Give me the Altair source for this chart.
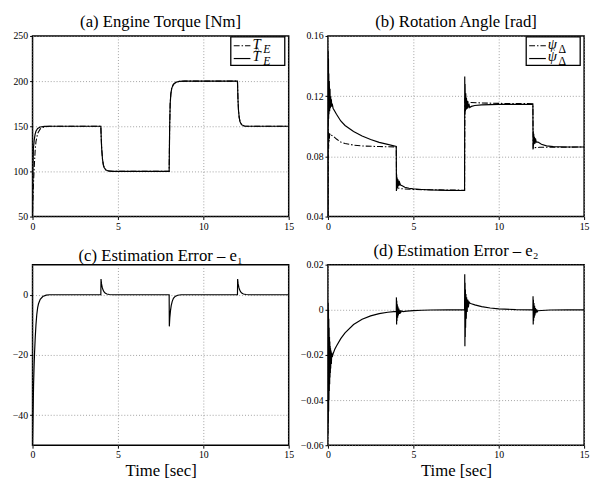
import altair as alt
import pandas as pd

FONT = "Liberation Serif"

# ---------------- (a) Engine Torque ----------------
t_a = [0, 0.02, 0.05, 0.1, 0.15, 0.2, 0.3, 0.45, 0.7, 1.0,
       4.0, 4.02, 4.05, 4.1, 4.15, 4.2, 4.3, 4.45, 4.7,
       8.0, 8.03, 8.06, 8.1, 8.15, 8.25, 8.4, 8.6, 8.9,
       12.0, 12.03, 12.06, 12.1, 12.15, 12.25, 12.4, 12.6, 15.0]
te_hat = [50, 100, 125, 135, 141, 144.5, 147.5, 149.2, 149.8, 150,
          150, 138, 125, 113, 107, 104, 101.5, 100.5, 100,
          100, 150, 175, 186, 192, 196.5, 198.8, 199.7, 200,
          200, 180, 168, 160, 155, 151.5, 150.3, 150, 150]
te = [55, 68, 85, 105, 122, 133, 142, 147, 149.5, 150,
      150, 138, 125, 113, 107, 104, 101.5, 100.5, 100,
      100, 150, 175, 186, 192, 196.5, 198.8, 199.7, 200,
      200, 180, 168, 160, 155, 151.5, 150.3, 150, 150]

# ---------------- (b) Rotation Angle ----------------
t_b_hat = [0, 0.01, 0.02, 0.03, 0.04, 0.05, 0.06, 0.08, 0.10, 0.12, 0.14, 0.16, 0.18, 0.2, 0.22, 0.25,
           0.3, 0.5, 0.75, 1.0, 1.5, 2.0, 2.5, 3.0, 3.5, 4.0,
           4.01, 4.02, 4.03, 4.05, 4.07, 4.09, 4.11, 4.14, 4.17, 4.2, 4.25, 4.35, 4.5, 4.75, 5.0, 5.5, 6.0, 7.0, 8.0,
           8.01, 8.02, 8.03, 8.05, 8.07, 8.09, 8.11, 8.14, 8.17, 8.2, 8.25, 8.3, 8.4, 8.6, 9.0, 10.0, 12.0,
           12.01, 12.02, 12.03, 12.05, 12.07, 12.09, 12.12, 12.15, 12.2, 12.3, 12.5, 12.8, 13.2, 14.0, 15.0]
psi_hat = [0.04, 0.15, 0.10, 0.145, 0.105, 0.135, 0.108, 0.13, 0.11, 0.125, 0.112, 0.12, 0.113, 0.118, 0.113, 0.115,
           0.112, 0.108, 0.1035, 0.1005, 0.0965, 0.0935, 0.0912, 0.0893, 0.088, 0.0866,
           0.057, 0.068, 0.058, 0.066, 0.059, 0.065, 0.060, 0.064, 0.0605, 0.0625, 0.061, 0.0605, 0.0595, 0.0588, 0.0584, 0.058, 0.0577, 0.0574, 0.0573,
           0.133, 0.108, 0.128, 0.110, 0.122, 0.111, 0.119, 0.1115, 0.117, 0.112, 0.115, 0.1125, 0.1132, 0.1138, 0.1142, 0.1145, 0.1146,
           0.085, 0.097, 0.087, 0.095, 0.088, 0.093, 0.0885, 0.092, 0.0895, 0.0895, 0.088, 0.087, 0.0865, 0.0862, 0.0862]
t_b = [0, 0.02, 0.04, 0.06, 0.08, 0.1, 0.15, 0.2, 0.3, 0.5, 0.75, 1.0, 1.5, 2.0, 3.0, 4.0,
       4.02, 4.1, 4.3, 5.0, 8.0,
       8.02, 8.1, 8.3, 9.0, 10.0, 12.0,
       12.02, 12.1, 12.4, 15.0]
psi = [0.04, 0.098, 0.085, 0.096, 0.090, 0.095, 0.0935, 0.094, 0.0935, 0.0915, 0.0895, 0.0885, 0.0875, 0.0869, 0.0865, 0.0863,
       0.060, 0.059, 0.0585, 0.058, 0.0575,
       0.118, 0.1165, 0.1158, 0.1155, 0.1152, 0.115,
       0.085, 0.0858, 0.086, 0.0862]

# ---------------- (c) Estimation Error e1 ----------------
t_c = [0, 0.03, 0.06, 0.09, 0.12, 0.16, 0.2, 0.25, 0.3, 0.35, 0.45, 0.6, 0.8, 1.0,
       4.0, 4.01, 4.04, 4.08, 4.12, 4.18, 4.25, 4.35, 4.5, 4.7,
       8.0, 8.01, 8.04, 8.08, 8.12, 8.18, 8.25, 8.35, 8.5, 8.7,
       12.0, 12.01, 12.04, 12.08, 12.12, 12.18, 12.25, 12.35, 12.5, 12.7, 15.0]
e1 = [-50, -40, -30, -24, -19, -14, -10, -6.5, -4.3, -3, -1.5, -0.6, -0.15, 0,
      0, 5.2, 3.6, 2.5, 1.7, 1.0, 0.55, 0.25, 0.08, 0,
      0, -10.5, -7.5, -5.2, -3.6, -2.2, -1.2, -0.55, -0.18, 0,
      0, 5.2, 3.6, 2.5, 1.7, 1.0, 0.55, 0.25, 0.08, 0, 0]

# ---------------- (d) Estimation Error e2 ----------------
t_d = [0, 0.01, 0.02, 0.03, 0.04, 0.05, 0.06, 0.07, 0.08, 0.09, 0.10, 0.11, 0.12, 0.13, 0.14, 0.15, 0.16, 0.18, 0.2, 0.22, 0.25,
       0.3, 0.4, 0.5, 0.75, 1.0, 1.5, 2.0, 2.5, 3.0, 3.5, 4.0,
       4.01, 4.02, 4.03, 4.04, 4.06, 4.08, 4.1, 4.12, 4.15, 4.18, 4.22, 4.26, 4.3, 4.4, 4.6, 5.0, 5.5, 6.0, 7.0, 8.0,
       8.01, 8.02, 8.03, 8.04, 8.05, 8.06, 8.08, 8.1, 8.12, 8.15, 8.18, 8.22, 8.26, 8.3, 8.4, 8.6, 9.0, 9.5, 10.0, 11.0, 12.0,
       12.01, 12.02, 12.03, 12.04, 12.06, 12.08, 12.1, 12.12, 12.15, 12.18, 12.22, 12.26, 12.3, 12.5, 13.0, 14.0, 15.0]
e2 = [-0.055, 0.003, -0.05, 0.0, -0.045, -0.004, -0.04, -0.008, -0.036, -0.012, -0.033, -0.014, -0.03, -0.016, -0.028, -0.017, -0.026, -0.018, -0.024, -0.019, -0.021,
      -0.0195, -0.0175, -0.016, -0.0128, -0.0102, -0.0065, -0.0042, -0.0027, -0.0017, -0.0011, -0.0007,
      0.0055, -0.0065, 0.004, -0.005, 0.0025, -0.0035, 0.0015, -0.0025, 0.0005, -0.0018, -0.0002, -0.0012, -0.0005, -0.0008, -0.0006, -0.0004, -0.0002, -0.0001, 0.0, 0.0,
      0.0158, -0.0162, 0.012, -0.012, 0.009, -0.008, 0.007, -0.004, 0.0055, -0.001, 0.0045, 0.001, 0.0035, 0.003, 0.0027, 0.0022, 0.0014, 0.0008, 0.0004, 0.0001, 0.0,
      0.006, -0.0065, 0.0045, -0.005, 0.003, -0.0035, 0.0018, -0.0025, 0.0008, -0.0015, 0.0002, -0.0008, -0.0004, -0.0003, -0.0001, 0.0, 0.0]

x_ticks = [0, 5, 10, 15]

W, H = 261, 184
DASHDOT = [6, 2, 1.5, 2]


def axis_x(title):
    kw = dict(values=x_ticks, format="d", grid=True, gridDash=[1, 2], gridColor="#8a8a8a", gridWidth=0.8,
              domain=False, tickColor="black", tickSize=3, labelFont=FONT, labelFontSize=10,
              labelColor="black", labelPadding=2, labelFlush=False)
    if title:
        kw.update(title=title, titleFont=FONT, titleFontSize=17, titleFontWeight="normal",
                  titleColor="black", titlePadding=3)
    else:
        kw.update(title=None)
    return alt.Axis(**kw)


def axis_y(values, label_expr):
    return alt.Axis(values=values, labelExpr=label_expr, grid=True, gridDash=[1, 2], gridColor="#8a8a8a",
                    gridWidth=0.8, domain=False, tickColor="black", tickSize=3, labelFont=FONT,
                    labelFontSize=10, labelColor="black", labelPadding=2, title=None, labelFlush=False)


def line(t, v, dom, yvals, yexpr, xtitle, dash=None):
    df = pd.DataFrame({"t": t, "v": v})
    mk = dict(color="black", strokeWidth=1.2, clip=True)
    if dash:
        mk["strokeDash"] = dash
        mk["strokeWidth"] = 1.1
    return alt.Chart(df).mark_line(**mk).encode(
        x=alt.X("t:Q", scale=alt.Scale(domain=[0, 15], nice=False, zero=False), axis=axis_x(xtitle)),
        y=alt.Y("v:Q", scale=alt.Scale(domain=dom, nice=False, zero=False), axis=axis_y(yvals, yexpr)),
    )


one = pd.DataFrame({"k": [0]})


def legend(sym, sub, sub_upright):
    x0 = W - 59
    box = alt.Chart(one).mark_rect(fill="white", stroke="black", strokeWidth=1.3).encode(
        x=alt.value(x0), x2=alt.value(W - 4), y=alt.value(1), y2=alt.value(30))
    r1 = alt.Chart(one).mark_rule(color="black", strokeWidth=1.1, strokeDash=DASHDOT).encode(
        x=alt.value(x0 + 3), x2=alt.value(x0 + 20), y=alt.value(10))
    r2 = alt.Chart(one).mark_rule(color="black", strokeWidth=1.2).encode(
        x=alt.value(x0 + 3), x2=alt.value(x0 + 20), y=alt.value(23))
    layers = [box, r1, r2]
    for yy in (10, 23):
        layers.append(alt.Chart(one).mark_text(text=sym, font=FONT, fontStyle="italic", fontSize=15,
                                               align="left", baseline="middle", color="black").encode(
            x=alt.value(x0 + 22), y=alt.value(yy - 2)))
        layers.append(alt.Chart(one).mark_text(text=sub, font=FONT,
                                               fontStyle="normal" if sub_upright else "italic",
                                               fontSize=12, align="left", baseline="middle", color="black").encode(
            x=alt.value(x0 + 33), y=alt.value(yy + 3)))
    # hat over the estimate symbol
    layers.append(alt.Chart(one).mark_text(text="^", font=FONT, fontSize=9, align="left",
                                           baseline="middle", color="black").encode(
        x=alt.value(x0 + 25), y=alt.value(23 - 9)))
    return layers


def title(txt):
    return alt.TitleParams(text=txt, font=FONT, fontSize=17, fontWeight="normal", color="black",
                           offset=0, anchor="middle")


lab_int = "format(datum.value, 'd')"
lab_b = "format(datum.value, '.2f')"
lab_d = "datum.value == 0 ? '0' : format(datum.value, '.2f')"

pa = alt.layer(
    line(t_a, te, [50, 250], [50, 100, 150, 200, 250], lab_int, None, DASHDOT),
    line(t_a, te_hat, [50, 250], [50, 100, 150, 200, 250], lab_int, None),
    *legend("T", "E", False),
).properties(width=W, height=H, title=title("(a) Engine Torque [Nm]"))

pb = alt.layer(
    line(t_b, psi, [0.04, 0.16], [0.04, 0.08, 0.12, 0.16], lab_b, None, DASHDOT),
    line(t_b_hat, psi_hat, [0.04, 0.16], [0.04, 0.08, 0.12, 0.16], lab_b, None),
    *legend("\u03c8", "\u0394", True),
).properties(width=W, height=H, title=title("(b) Rotation Angle [rad]"))

pc = alt.layer(
    line(t_c, e1, [-50, 10], [-40, -20, 0], lab_int, "Time [sec]"),
).properties(width=W, height=H, title=title("(c) Estimation Error \u2013 e\u2081"))

pd_ = alt.layer(
    line(t_d, e2, [-0.06, 0.02], [-0.06, -0.04, -0.02, 0, 0.02], lab_d, "Time [sec]"),
).properties(width=W, height=H, title=title("(d) Estimation Error \u2013 e\u2082"))

chart = alt.concat(
    pa, pb, pc, pd_, columns=2, spacing={"row": 49, "column": 40}, bounds="flush",
).properties(
    padding={"left": 3, "top": 0, "right": 0, "bottom": 0}, background="white"
).configure_view(stroke="black", strokeWidth=1.5)

chart.save("out.html", embed_options={"renderer": "svg", "actions": False})
